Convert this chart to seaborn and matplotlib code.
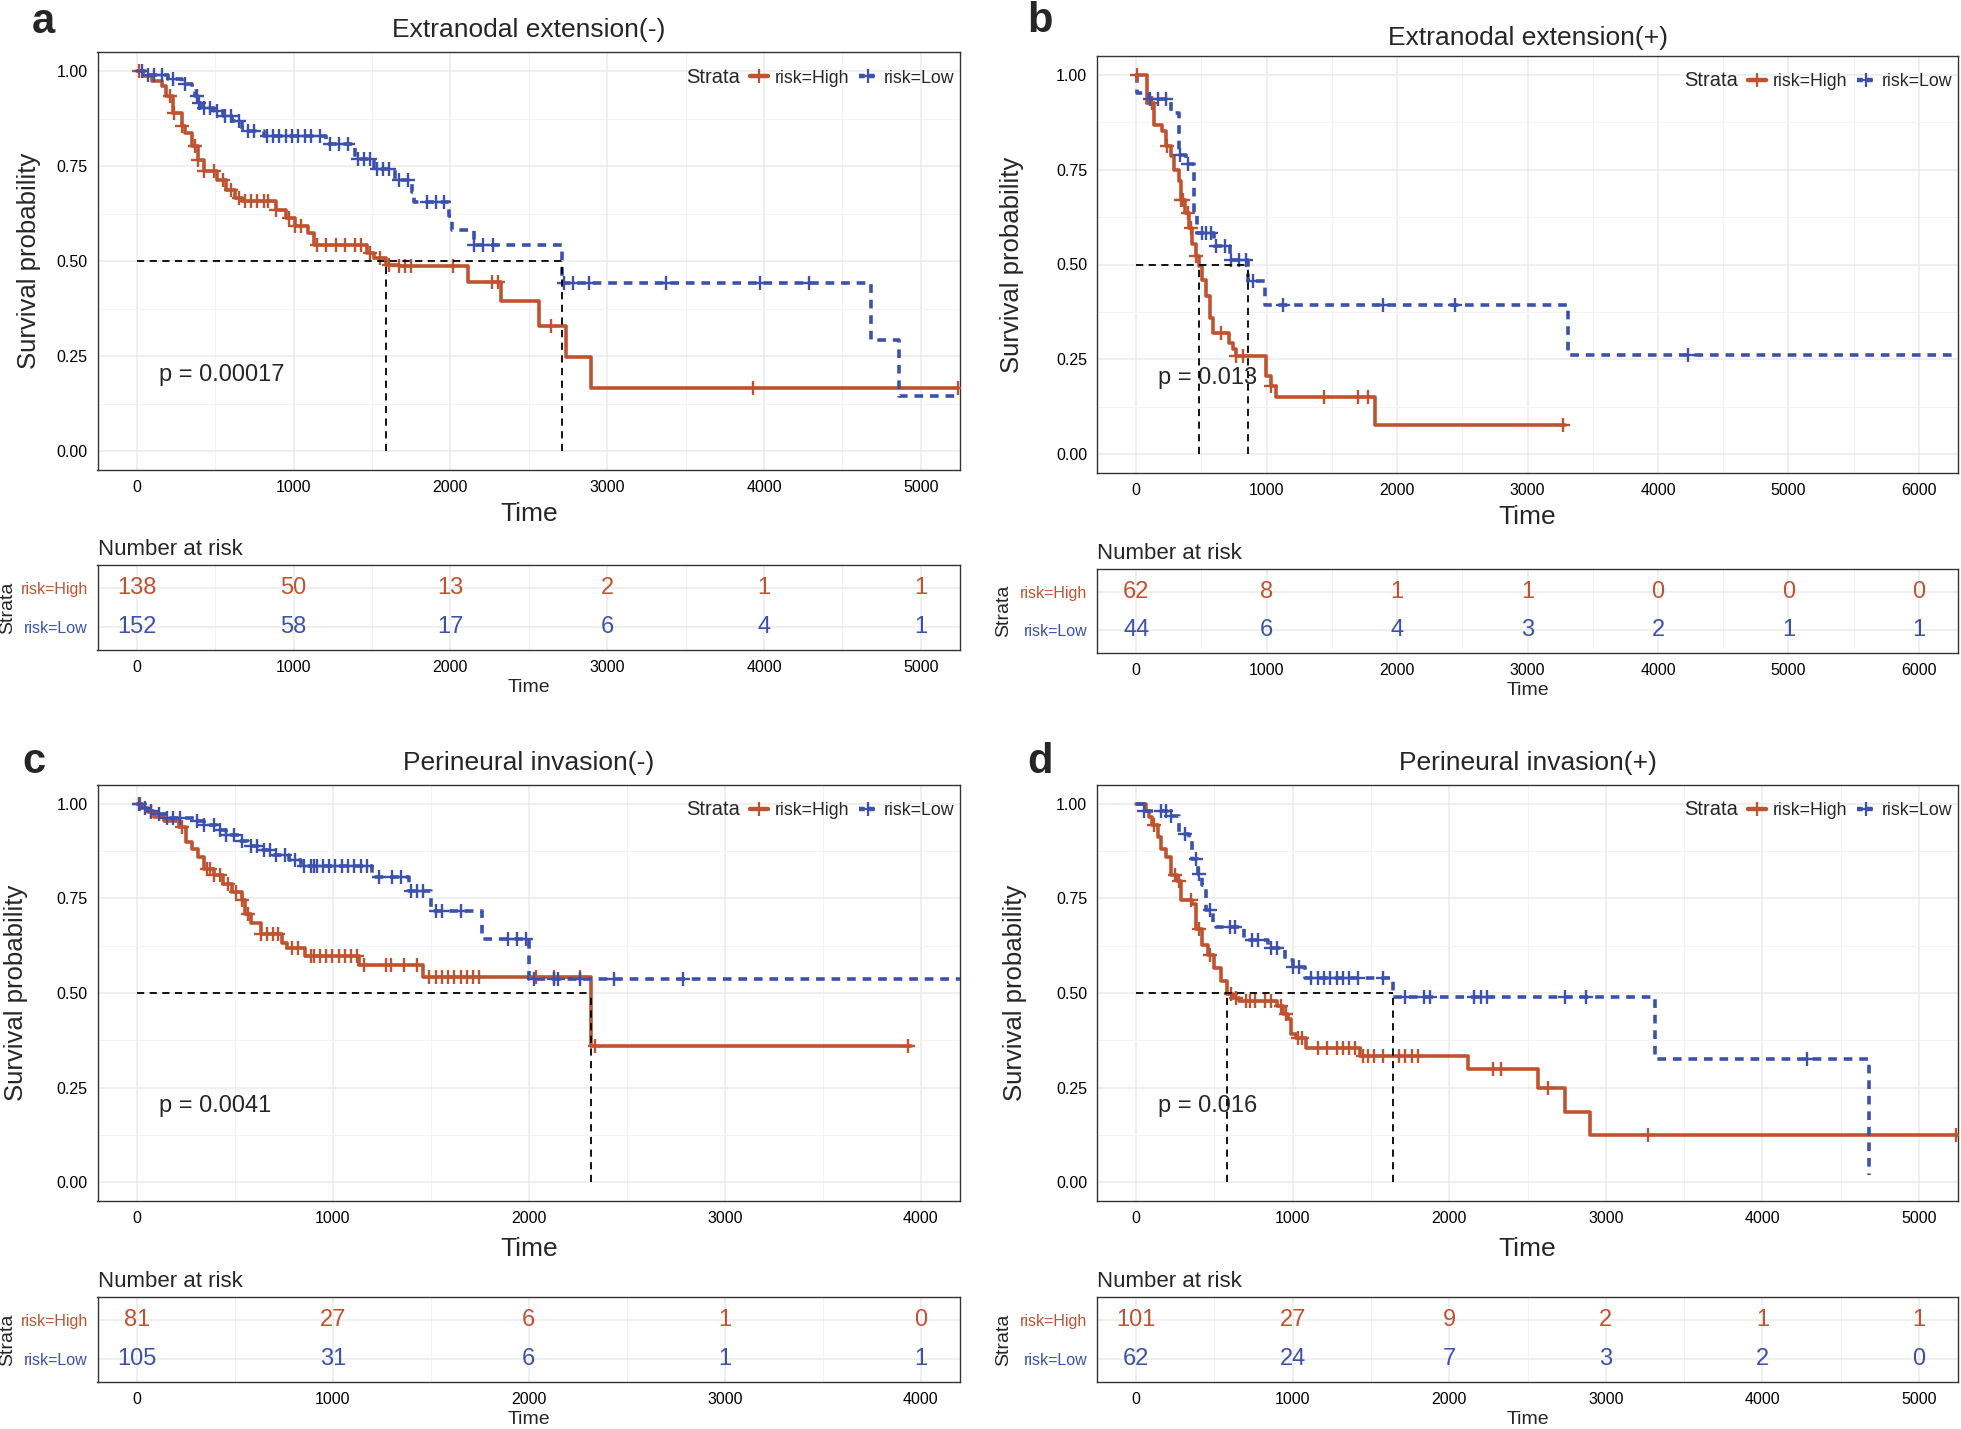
import numpy as np
import pandas as pd
import matplotlib
matplotlib.use("Agg")
import matplotlib.pyplot as plt
import seaborn as sns
from matplotlib.lines import Line2D

RED = "#BF5330"
BLUE = "#3C50AE"

# ---- panel a : Extranodal extension(-) ----
a_high_t = [0, 40, 100, 160, 190, 230, 290, 310, 350, 390, 430, 510, 570, 630, 670, 890, 950, 1010,
            1090, 1130, 1470, 1510, 1590, 1670, 2115, 2326, 2566, 2737, 2897, 5240]
a_high_s = [1.0, 0.988, 0.975, 0.961, 0.935, 0.890, 0.856, 0.838, 0.803, 0.768, 0.737, 0.715, 0.689,
            0.667, 0.658, 0.636, 0.614, 0.592, 0.575, 0.544, 0.522, 0.509, 0.491, 0.487, 0.445, 0.395,
            0.330, 0.248, 0.166, 0.166]
a_high_cens = [12, 210, 240, 290, 370, 390, 430, 490, 550, 600, 650, 690, 730, 770, 810, 840, 890, 970,
               1010, 1050, 1150, 1210, 1270, 1330, 1390, 1430, 1490, 1550, 1610, 1670, 1710, 1750, 2020,
               2266, 2306, 2645, 3930, 5240]
a_low_t = [0, 60, 200, 290, 350, 370, 390, 410, 490, 550, 610, 670, 710, 810, 1210, 1390, 1510, 1650,
           1756, 1770, 1990, 2010, 2150, 2715, 4680, 4860, 5400]
a_low_s = [1.0, 0.99, 0.98, 0.966, 0.948, 0.935, 0.917, 0.904, 0.895, 0.882, 0.869, 0.851, 0.843, 0.830,
           0.808, 0.770, 0.742, 0.715, 0.682, 0.656, 0.620, 0.583, 0.544, 0.443, 0.293, 0.146, 0.146]
a_low_cens = [32, 72, 112, 160, 230, 310, 383, 400, 430, 470, 510, 560, 600, 650, 710, 750, 830, 870, 910,
              950, 990, 1030, 1070, 1110, 1170, 1230, 1290, 1350, 1410, 1450, 1490, 1530, 1570, 1610,
              1670, 1730, 1850, 1910, 1960, 2150, 2210, 2270, 2725, 2785, 2885, 3376, 3974, 4289]
a_risk_high = [138, 50, 13, 2, 1, 1]
a_risk_low = [152, 58, 17, 6, 4, 1]

# ---- panel b : Extranodal extension(+) ----
b_high_t = [0, 86, 134, 202, 226, 264, 288, 326, 346, 374, 408, 432, 456, 480, 504, 538, 566, 586, 710,
            744, 768, 998, 1032, 1070, 1834, 3288]
b_high_s = [1.0, 0.926, 0.869, 0.851, 0.812, 0.786, 0.750, 0.720, 0.671, 0.636, 0.597, 0.553, 0.522,
            0.496, 0.460, 0.417, 0.359, 0.320, 0.293, 0.276, 0.258, 0.206, 0.179, 0.151, 0.076, 0.076]
b_high_cens = [10, 120, 240, 346, 360, 394, 418, 456, 648, 768, 816, 1032, 1440, 1704, 1776, 3274]
b_low_t = [0, 10, 96, 264, 326, 384, 446, 470, 600, 720, 854, 984, 3312, 6400]
b_low_s = [1.0, 0.953, 0.937, 0.900, 0.790, 0.764, 0.636, 0.583, 0.548, 0.513, 0.456, 0.392, 0.260, 0.260]
b_low_cens = [106, 168, 230, 336, 394, 504, 538, 576, 614, 682, 730, 792, 840, 893, 1128, 1896, 2448, 4234]
b_risk_high = [62, 8, 1, 1, 0, 0, 0]
b_risk_low = [44, 6, 4, 3, 2, 1, 1]

# ---- panel c : Perineural invasion(-) ----
c_high_t = [0, 25, 57, 89, 137, 217, 249, 281, 313, 345, 392, 440, 488, 536, 552, 584, 632, 743, 766,
            861, 1136, 1461, 2316, 3949]
c_high_s = [1.0, 0.99, 0.978, 0.965, 0.956, 0.938, 0.899, 0.881, 0.859, 0.829, 0.811, 0.789, 0.767,
            0.745, 0.710, 0.684, 0.657, 0.631, 0.618, 0.598, 0.574, 0.541, 0.359, 0.359]
c_high_cens = [19, 73, 233, 360, 376, 392, 424, 466, 504, 536, 568, 632, 664, 695, 721, 791, 823, 887,
               903, 935, 967, 998, 1030, 1062, 1094, 1126, 1158, 1270, 1295, 1365, 1429, 1493, 1525,
               1557, 1589, 1621, 1652, 1684, 1716, 1748, 2035, 2131, 2259, 2338, 3933]
c_low_t = [0, 20, 57, 105, 153, 297, 345, 408, 456, 520, 568, 632, 695, 775, 839, 1199, 1391, 1499,
           1764, 2003, 4300]
c_low_s = [1.0, 0.99, 0.982, 0.974, 0.963, 0.956, 0.943, 0.930, 0.917, 0.903, 0.890, 0.877, 0.864,
           0.851, 0.837, 0.807, 0.769, 0.716, 0.642, 0.536, 0.536]
c_low_cens = [10, 41, 73, 115, 153, 185, 223, 306, 345, 392, 424, 456, 498, 536, 584, 616, 648, 679,
              711, 759, 807, 855, 887, 903, 919, 951, 983, 1014, 1046, 1078, 1110, 1142, 1174, 1238,
              1302, 1349, 1397, 1429, 1461, 1525, 1557, 1652, 1892, 1940, 1988, 2029, 2131, 2147, 2259,
              2434, 2785]
c_risk_high = [81, 27, 6, 1, 0]
c_risk_low = [105, 31, 6, 1, 1]

# ---- panel d : Perineural invasion(+) ----
d_high_t = [0, 60, 80, 100, 140, 160, 192, 220, 260, 288, 360, 380, 420, 460, 500, 540, 580, 620, 660,
            900, 940, 968, 992, 1020, 1088, 1432, 2120, 2568, 2740, 2900, 5400]
d_high_s = [1.0, 0.98, 0.965, 0.943, 0.913, 0.882, 0.859, 0.811, 0.797, 0.746, 0.736, 0.670, 0.627,
            0.601, 0.566, 0.531, 0.498, 0.487, 0.478, 0.466, 0.444, 0.430, 0.391, 0.382, 0.354, 0.334,
            0.298, 0.248, 0.186, 0.125, 0.125]
d_high_cens = [112, 248, 272, 352, 400, 472, 608, 640, 700, 728, 760, 820, 860, 928, 960, 1032, 1060,
               1160, 1220, 1280, 1320, 1360, 1400, 1448, 1480, 1520, 1580, 1680, 1720, 1760, 1800,
               2280, 2328, 2632, 3272, 5240]
d_low_t = [0, 48, 200, 272, 340, 360, 392, 420, 448, 488, 512, 688, 840, 952, 1000, 1080, 1640, 3312, 4680]
d_low_s = [1.0, 0.982, 0.968, 0.921, 0.903, 0.855, 0.815, 0.785, 0.719, 0.684, 0.675, 0.640, 0.618,
           0.587, 0.570, 0.539, 0.490, 0.326, 0.018]
d_low_cens = [48, 160, 192, 220, 312, 380, 400, 472, 600, 632, 740, 780, 860, 900, 1000, 1040, 1120,
              1160, 1200, 1240, 1280, 1320, 1360, 1420, 1580, 1720, 1840, 1880, 2160, 2200, 2240, 2740,
              2872, 4288]
d_risk_high = [101, 27, 9, 2, 1, 1]
d_risk_low = [62, 24, 7, 3, 2, 0]

W, H = 1961, 1429
GRID = "#EBEBEB"
SPINE = "#333333"


def px_rect(left, top, right, bottom):
    return [left / W, 1 - bottom / H, (right - left) / W, (bottom - top) / H]


def step_at(t, s, x):
    t = np.asarray(t)
    idx = np.searchsorted(t, x, side="right") - 1
    return np.asarray(s)[idx]


def median_time(t, s):
    for ti, si in zip(t, s):
        if si <= 0.5:
            return ti
    return None


def style_axes(ax):
    for sp in ax.spines.values():
        sp.set_color(SPINE)
        sp.set_linewidth(1.0)
    ax.set_axisbelow(True)
    ax.grid(True, which="major", color=GRID, lw=1.1)
    ax.tick_params(axis="both", which="major", length=3.5, width=1, color=SPINE,
                   labelsize=11.5, labelcolor="black", direction="out")
    ax.tick_params(axis="both", which="minor", length=0)


def km_panel(fig, main_px, risk_px, title, title_pad, letter, letter_px,
             high_t, high_s, high_c, low_t, low_s, low_c, pval, tmax,
             risk_high, risk_low, ylab_x, strata_x, xlab_pad):
    ax = fig.add_axes(px_rect(*main_px))
    style_axes(ax)
    ax.set_xlim(-0.05 * tmax, 1.05 * tmax)
    ax.set_ylim(-0.05, 1.05)
    ax.set_xticks(np.arange(0, tmax + 1, 1000))
    ax.set_xticks(np.arange(500, tmax + 1, 1000), minor=True)
    ax.set_yticks([0, 0.25, 0.5, 0.75, 1.0])
    ax.set_yticks([0.125, 0.375, 0.625, 0.875], minor=True)
    ax.set_yticklabels(["0.00", "0.25", "0.50", "0.75", "1.00"], fontsize=11.5)
    ax.grid(True, which="minor", color="#F3F3F3", lw=0.7)

    high = pd.DataFrame({"time": high_t, "surv": high_s})
    low = pd.DataFrame({"time": low_t, "surv": low_s})
    sns.lineplot(data=high, x="time", y="surv", drawstyle="steps-post", color=RED,
                 linewidth=2.6, estimator=None, sort=False, ax=ax, zorder=3)
    sns.lineplot(data=low, x="time", y="surv", drawstyle="steps-post", color=BLUE,
                 linewidth=2.6, estimator=None, sort=False, ax=ax, zorder=3)
    ax.get_lines()[-1].set_dashes((2.4, 1.9))

    ax.plot(high_c, step_at(high_t, high_s, high_c), ls="none", marker="+", ms=10,
            mew=1.7, color=RED, zorder=4)
    ax.plot(low_c, step_at(low_t, low_s, low_c), ls="none", marker="+", ms=10,
            mew=1.7, color=BLUE, zorder=4)

    # median survival lines
    meds = [m for m in (median_time(high_t, high_s), median_time(low_t, low_s)) if m is not None]
    ax.plot([0, max(meds)], [0.5, 0.5], color="black", lw=1.3, dashes=(4, 3), zorder=5)
    for m in meds:
        ax.plot([m, m], [0, 0.5], color="black", lw=1.3, dashes=(4, 3), zorder=5)

    ax.text(0.028 * tmax, 0.2, pval, fontsize=17, ha="left", va="center")
    ax.set_title(title, fontsize=19, pad=title_pad)
    ax.set_xlabel("Time", fontsize=19, labelpad=xlab_pad)
    ax.set_ylabel("Survival probability", fontsize=18.5)
    ax.yaxis.set_label_coords(ylab_x, 0.5)

    h_high = Line2D([], [], color=RED, lw=3.2, marker="+", ms=10, mew=1.6)
    h_low = Line2D([], [], color=BLUE, lw=3.2, marker="+", ms=10, mew=1.6, dashes=(1.3, 0.9))
    h_none = Line2D([], [], alpha=0)
    leg = ax.legend([h_none, h_high, h_low], ["Strata", "risk=High", "risk=Low"], ncol=3,
                    loc="center right", bbox_to_anchor=(1.012, 0.941), frameon=False,
                    fontsize=12.8, handlelength=1.05, handletextpad=0.35, columnspacing=0.55)
    leg.get_texts()[0].set_fontsize(14.5)

    fig.text(letter_px[0] / W, 1 - letter_px[1] / H, letter, fontsize=30, fontweight="bold",
             ha="left", va="baseline")

    # number at risk table
    rx = fig.add_axes(px_rect(*risk_px))
    style_axes(rx)
    rx.set_xlim(-0.05 * tmax, 1.05 * tmax)
    rx.set_ylim(0.385, 2.615)
    xs = np.arange(0, tmax + 1, 1000)
    rx.set_xticks(xs)
    rx.set_xticks(np.arange(500, tmax + 1, 1000), minor=True)
    rx.grid(True, which="minor", axis="x", color="#F3F3F3", lw=0.7)
    rx.set_yticks([1, 2])
    rx.set_yticklabels(["risk=Low", "risk=High"], fontsize=11.5)
    for lab, col in zip(rx.get_yticklabels(), [BLUE, RED]):
        lab.set_color(col)
    for x, nh, nl in zip(xs, risk_high, risk_low):
        rx.text(x, 2, str(nh), color=RED, fontsize=17, ha="center", va="center")
        rx.text(x, 1, str(nl), color=BLUE, fontsize=17, ha="center", va="center")
    rx.set_title("Number at risk", fontsize=16, loc="left", pad=7)
    rx.set_xlabel("Time", fontsize=14, labelpad=3)
    rx.set_ylabel("Strata", fontsize=14)
    rx.yaxis.set_label_coords(strata_x, 0.5)


sns.set_theme(style="white")
plt.rcParams["font.family"] = ["Liberation Sans", "DejaVu Sans"]

fig = plt.figure(figsize=(W / 100, H / 100), dpi=100)
fig.patch.set_facecolor("white")

km_panel(fig, (97.5, 52.5, 960, 470), (97.5, 565, 960, 650), "Extranodal extension(-)", 11,
         "a", (32, 33), a_high_t, a_high_s, a_high_cens, a_low_t, a_low_s, a_low_cens,
         "p = 0.00017", 5000, a_risk_high, a_risk_low, -0.066, -0.094, 5)
km_panel(fig, (1097, 56, 1958, 473), (1097, 569, 1958, 653), "Extranodal extension(+)", 8,
         "b", (1027, 32), b_high_t, b_high_s, b_high_cens, b_low_t, b_low_s, b_low_cens,
         "p = 0.013", 6000, b_risk_high, b_risk_low, -0.085, -0.098, 5)
km_panel(fig, (97.5, 785, 960, 1201), (97.5, 1297, 960, 1382), "Perineural invasion(-)", 11,
         "c", (22, 773), c_high_t, c_high_s, c_high_cens, c_low_t, c_low_s, c_low_cens,
         "p = 0.0041", 4000, c_risk_high, c_risk_low, -0.081, -0.094, 8)
km_panel(fig, (1097, 785, 1958, 1201), (1097, 1297, 1958, 1382), "Perineural invasion(+)", 11,
         "d", (1027, 773), d_high_t, d_high_s, d_high_cens, d_low_t, d_low_s, d_low_cens,
         "p = 0.016", 5000, d_risk_high, d_risk_low, -0.081, -0.098, 8)

fig.savefig("out.png", dpi=100, facecolor="white")
